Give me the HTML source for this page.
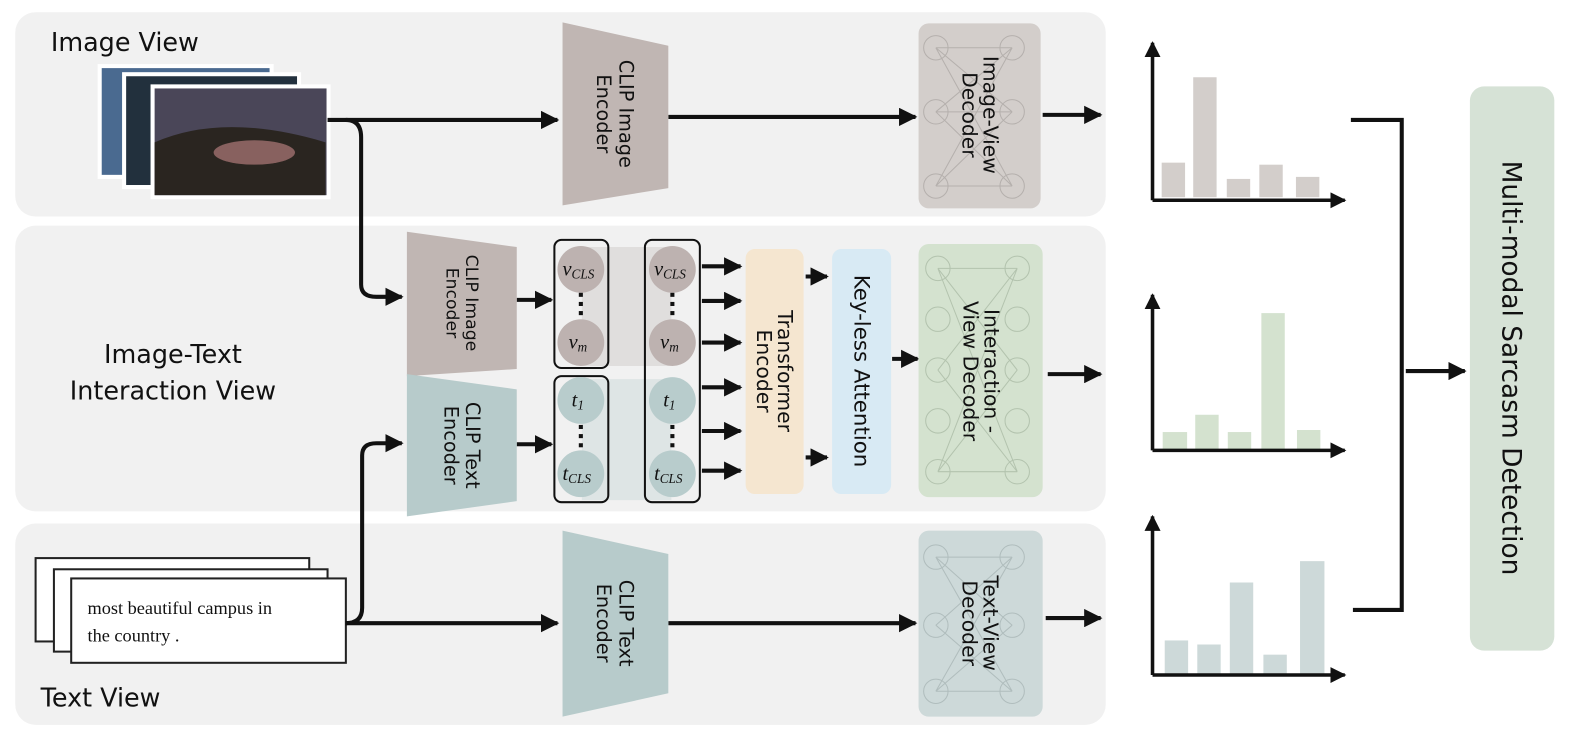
<!DOCTYPE html>
<html><head><meta charset="utf-8"><style>
html,body{margin:0;padding:0;background:#fff;}
svg{display:block;}
text{font-family:"DejaVu Sans","Liberation Sans",sans-serif;fill:#111;}
.s{font-family:"Liberation Serif",serif;}
.m{font-family:"Liberation Serif",serif;font-style:italic;}
</style></head><body>
<svg width="1594" height="736" viewBox="0 0 1567 724" preserveAspectRatio="none" xmlns="http://www.w3.org/2000/svg">
<defs>
<marker id="a" viewBox="0 0 10 10" refX="9" refY="5" markerWidth="4.5" markerHeight="4.5" orient="auto"><path d="M0,0 L10,5 L0,10 z" fill="#111"/></marker>
</defs>
<rect x="15" y="12" width="1072" height="201" rx="20" fill="#f1f1f1"/>
<rect x="15" y="222" width="1072" height="281" rx="20" fill="#f1f1f1"/>
<rect x="15" y="515" width="1072" height="198" rx="20" fill="#f1f1f1"/>

<text x="50" y="50" font-size="25">Image View</text>
<text x="170" y="357" font-size="25" text-anchor="middle">Image-Text</text>
<text x="170" y="393" font-size="25" text-anchor="middle">Interaction View</text>
<text x="40" y="695" font-size="25">Text View</text>

<rect x="98" y="65" width="169" height="109" fill="#4a6a90" stroke="#fff" stroke-width="4"/>
<rect x="122" y="73" width="172" height="111" fill="#22303d" stroke="#fff" stroke-width="4"/>
<rect x="150" y="85" width="173" height="109" fill="#4a4658" stroke="#fff" stroke-width="4"/>
<path d="M152,140 Q220,110 320,140 L320,192 L152,192 z" fill="#2a2520"/>
<ellipse cx="250" cy="150" rx="40" ry="12" fill="#c88a8a" opacity="0.6"/>

<rect x="35" y="549" width="269" height="82" fill="#fff" stroke="#222" stroke-width="2"/>
<rect x="53" y="560" width="269" height="81" fill="#fff" stroke="#222" stroke-width="2"/>
<rect x="70" y="569" width="270" height="83" fill="#fff" stroke="#222" stroke-width="2"/>
<text class="s" x="86" y="604" font-size="18">most beautiful campus in</text>
<text class="s" x="86" y="631" font-size="18">the country .</text>

<g stroke="#111" stroke-width="4" fill="none">
<path d="M322,118 L548,118" marker-end="url(#a)"/>
<path d="M340,118 Q355,118 355,135 L355,280 Q355,292 370,292 L395,292" marker-end="url(#a)"/>
<path d="M657,115 L900,115" marker-end="url(#a)"/>
<path d="M1025,113 L1082,113" marker-end="url(#a)"/>
<path d="M340,613 L548,613" marker-end="url(#a)"/>
<path d="M340,613 Q356,613 356,598 L356,448 Q356,436 370,436 L395,436" marker-end="url(#a)"/>
<path d="M657,613 L900,613" marker-end="url(#a)"/>
<path d="M1028,608 L1082,608" marker-end="url(#a)"/>
<path d="M508,295 L542,295" marker-end="url(#a)"/>
<path d="M508,437 L542,437" marker-end="url(#a)"/>
<path d="M690,262 L728,262" marker-end="url(#a)"/>
<path d="M690,296 L728,296" marker-end="url(#a)"/>
<path d="M690,337 L728,337" marker-end="url(#a)"/>
<path d="M690,381 L728,381" marker-end="url(#a)"/>
<path d="M690,424 L728,424" marker-end="url(#a)"/>
<path d="M690,463 L728,463" marker-end="url(#a)"/>
<path d="M792,272 L813,272" marker-end="url(#a)"/>
<path d="M792,450 L813,450" marker-end="url(#a)"/>
<path d="M877,353 L902,353" marker-end="url(#a)"/>
<path d="M1030,368 L1082,368" marker-end="url(#a)"/>
<path d="M1328,118 L1378,118 L1378,600 L1330,600"/>
<path d="M1382,365 L1440,365" marker-end="url(#a)"/>
</g>

<polygon points="553,22 657,45 657,185 553,202" fill="#c0b6b3"/>
<text transform="translate(605,112) rotate(90)" font-size="19" text-anchor="middle"><tspan x="0" y="-4">CLIP Image</tspan><tspan x="0" y="18">Encoder</tspan></text>
<polygon points="400,228 508,243 508,363 400,370" fill="#c0b6b3"/>
<text transform="translate(454,298) rotate(90)" font-size="17" text-anchor="middle"><tspan x="0" y="-4">CLIP Image</tspan><tspan x="0" y="15">Encoder</tspan></text>
<polygon points="400,368 508,383 508,493 400,508" fill="#b7cbcb"/>
<text transform="translate(454,438) rotate(90)" font-size="19" text-anchor="middle"><tspan x="0" y="-4">CLIP Text</tspan><tspan x="0" y="17">Encoder</tspan></text>
<polygon points="553,522 657,545 657,682 553,705" fill="#b7cbcb"/>
<text transform="translate(605,613) rotate(90)" font-size="19" text-anchor="middle"><tspan x="0" y="-4">CLIP Text</tspan><tspan x="0" y="18">Encoder</tspan></text>

<polygon points="572,243 660,243 660,360 572,360" fill="#d9d5d4" opacity="0.7"/>
<polygon points="572,373 660,373 660,492 572,492" fill="#d6e0e0" opacity="0.7"/>
<rect x="545" y="236" width="53" height="126" rx="7" fill="none" stroke="#111" stroke-width="2"/>
<rect x="545" y="370" width="53" height="124" rx="7" fill="none" stroke="#111" stroke-width="2"/>
<rect x="634" y="236" width="54" height="258" rx="7" fill="none" stroke="#111" stroke-width="2"/>
<g fill="#bdb2b0"><circle cx="571" cy="265" r="23"/><circle cx="571" cy="337" r="23"/><circle cx="661" cy="265" r="23"/><circle cx="661" cy="337" r="23"/></g>
<g fill="#b8cccc"><circle cx="571" cy="394" r="23"/><circle cx="571" cy="466" r="23"/><circle cx="661" cy="394" r="23"/><circle cx="661" cy="466" r="23"/></g>
<g font-size="20">
<text class="m" x="553" y="271">v<tspan font-size="13" dy="3">CLS</tspan></text>
<text class="m" x="643" y="271">v<tspan font-size="13" dy="3">CLS</tspan></text>
<text class="m" x="559" y="343">v<tspan font-size="13" dy="3">m</tspan></text>
<text class="m" x="649" y="343">v<tspan font-size="13" dy="3">m</tspan></text>
<text class="m" x="562" y="400">t<tspan font-size="13" dy="3">1</tspan></text>
<text class="m" x="652" y="400">t<tspan font-size="13" dy="3">1</tspan></text>
<text class="m" x="553" y="472">t<tspan font-size="13" dy="3">CLS</tspan></text>
<text class="m" x="643" y="472">t<tspan font-size="13" dy="3">CLS</tspan></text>
</g>
<g fill="#111"><rect x="569" y="288" width="4" height="4"/><rect x="569" y="297" width="4" height="4"/><rect x="569" y="306" width="4" height="4"/>
<rect x="659" y="288" width="4" height="4"/><rect x="659" y="297" width="4" height="4"/><rect x="659" y="306" width="4" height="4"/>
<rect x="569" y="418" width="4" height="4"/><rect x="569" y="427" width="4" height="4"/><rect x="569" y="436" width="4" height="4"/>
<rect x="659" y="418" width="4" height="4"/><rect x="659" y="427" width="4" height="4"/><rect x="659" y="436" width="4" height="4"/></g>

<rect x="733" y="245" width="57" height="241" rx="9" fill="#f5e6d0"/>
<text transform="translate(761,365) rotate(90)" font-size="20" text-anchor="middle"><tspan x="0" y="-4">Transformer</tspan><tspan x="0" y="17">Encoder</tspan></text>
<rect x="818" y="245" width="58" height="241" rx="9" fill="#d8eaf4"/>
<text transform="translate(847,365) rotate(90)" font-size="21" text-anchor="middle"><tspan x="0" y="7">Key-less Attention</tspan></text>

<g>
<rect x="903" y="23" width="120" height="182" rx="10" fill="#d3cecb"/>
<g stroke="#b5b0ad" stroke-width="1" fill="none">
<path d="M920,47 L995,47 M920,110 L995,110 M920,183 L995,183 M920,47 L995,110 M920,47 L995,183 M920,110 L995,47 M920,110 L995,183 M920,183 L995,47 M920,183 L995,110"/>
<circle cx="920" cy="47" r="12"/><circle cx="920" cy="110" r="12"/><circle cx="920" cy="183" r="12"/>
<circle cx="995" cy="47" r="12"/><circle cx="995" cy="110" r="12"/><circle cx="995" cy="183" r="12"/>
</g>
<text transform="translate(963,113) rotate(90)" font-size="20" text-anchor="middle"><tspan x="0" y="-4">Image-View</tspan><tspan x="0" y="17">Decoder</tspan></text>
</g>
<g>
<rect x="903" y="240" width="122" height="249" rx="10" fill="#d4e2cf"/>
<g stroke="#b3c3ae" stroke-width="1" fill="none">
<path d="M922,264 L1000,264 M922,464 L1000,464 M922,264 L1000,464 M922,464 L1000,264 M922,264 L1000,364 M922,464 L1000,364 M922,364 L1000,264 M922,364 L1000,464"/>
<circle cx="922" cy="264" r="12"/><circle cx="922" cy="314" r="12"/><circle cx="922" cy="364" r="12"/><circle cx="922" cy="414" r="12"/><circle cx="922" cy="464" r="12"/>
<circle cx="1000" cy="264" r="12"/><circle cx="1000" cy="314" r="12"/><circle cx="1000" cy="364" r="12"/><circle cx="1000" cy="414" r="12"/><circle cx="1000" cy="464" r="12"/>
</g>
<text transform="translate(964,365) rotate(90)" font-size="20" text-anchor="middle"><tspan x="0" y="-4">Interaction -</tspan><tspan x="0" y="17">View Decoder</tspan></text>
</g>
<g>
<rect x="903" y="522" width="122" height="183" rx="10" fill="#cdd9d9"/>
<g stroke="#b0bdbd" stroke-width="1" fill="none">
<path d="M920,548 L995,548 M920,680 L995,680 M920,548 L995,615 M920,548 L995,680 M920,615 L995,548 M920,615 L995,680 M920,680 L995,548 M920,680 L995,615"/>
<circle cx="920" cy="548" r="12"/><circle cx="920" cy="615" r="12"/><circle cx="920" cy="680" r="12"/>
<circle cx="995" cy="548" r="12"/><circle cx="995" cy="615" r="12"/><circle cx="995" cy="680" r="12"/>
</g>
<text transform="translate(963,613) rotate(90)" font-size="20" text-anchor="middle"><tspan x="0" y="-4">Text-View</tspan><tspan x="0" y="17">Decoder</tspan></text>
</g>

<g fill="#d3cecb"><rect x="1142" y="160" width="23" height="34"/><rect x="1173" y="76" width="23" height="118"/><rect x="1206" y="176" width="23" height="18"/><rect x="1238" y="162" width="23" height="32"/><rect x="1274" y="174" width="23" height="20"/></g>
<g fill="#d4e2cf"><rect x="1143" y="425" width="24" height="18"/><rect x="1175" y="408" width="23" height="35"/><rect x="1207" y="425" width="23" height="18"/><rect x="1240" y="308" width="23" height="135"/><rect x="1275" y="423" width="23" height="20"/></g>
<g fill="#cdd9d9"><rect x="1145" y="630" width="23" height="33"/><rect x="1177" y="634" width="23" height="29"/><rect x="1209" y="573" width="23" height="90"/><rect x="1242" y="644" width="23" height="19"/><rect x="1278" y="552" width="24" height="111"/></g>
<g stroke="#111" stroke-width="3.5" fill="none">
<path d="M1133,197 L1133,42" marker-end="url(#a)"/><path d="M1133,197 L1322,197" marker-end="url(#a)"/>
<path d="M1133,443 L1133,290" marker-end="url(#a)"/><path d="M1133,443 L1322,443" marker-end="url(#a)"/>
<path d="M1133,664 L1133,508" marker-end="url(#a)"/><path d="M1133,664 L1322,664" marker-end="url(#a)"/>
</g>

<rect x="1445" y="85" width="83" height="555" rx="14" fill="#d6e2d6"/>
<text transform="translate(1486,362) rotate(90)" font-size="26" text-anchor="middle" y="9">Multi-modal Sarcasm Detection</text>
</svg>
</body></html>
